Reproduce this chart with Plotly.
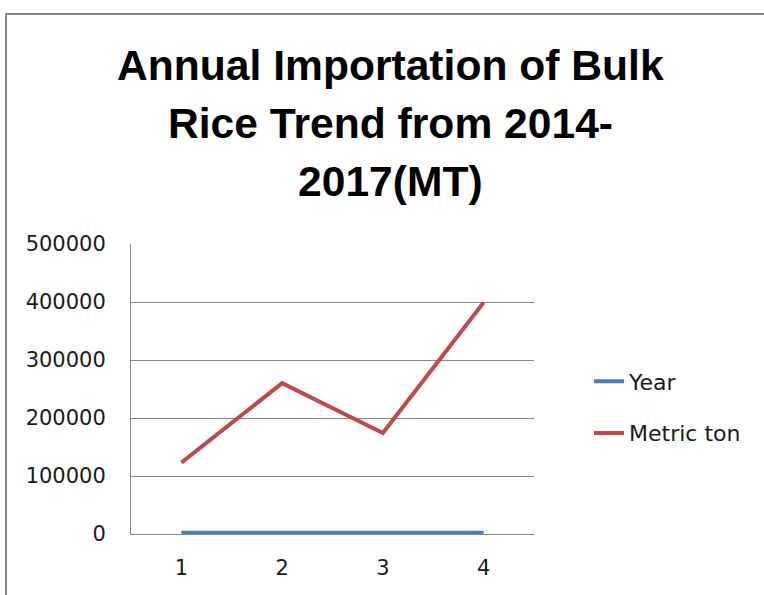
import plotly.graph_objects as go

# Data
categories = [1, 2, 3, 4]
year_values = [2014, 2015, 2016, 2017]
metric_ton_values = [123000, 260000, 174000, 399000]
title_lines = ["Annual Importation of Bulk", "Rice Trend from 2014-", "2017(MT)"]
series_names = ["Year", "Metric ton"]
y_tick_values = [0, 100000, 200000, 300000, 400000, 500000]

W, H = 764, 595
PX_L, PX_R, PX_T, PX_B = 131, 534, 244, 534

def py_(py):
    return (PX_B - py) / (PX_B - PX_T)

def px_(px):
    return (px - PX_L) / (PX_R - PX_L)

fig = go.Figure()
fig.add_trace(go.Scatter(x=categories, y=year_values, mode="lines", name=series_names[0],
                         legendgroup="a", line=dict(color="#4A7EBB", width=4)))
fig.add_trace(go.Scatter(x=categories, y=metric_ton_values, mode="lines", name=series_names[1],
                         legendgroup="b", line=dict(color="#BE4B48", width=4)))

title_centers_px = [65, 123, 181]
for text, cy in zip(title_lines, title_centers_px):
    fig.add_annotation(text=text, xref="paper", yref="paper",
                       x=px_(390), y=py_(cy),
                       xanchor="center", yanchor="middle", showarrow=False,
                       font=dict(family="Liberation Sans", size=42.6, color="#000000", weight="bold"))

# chart area border (only top and left edges visible)
fig.add_shape(type="rect", xref="paper", yref="paper",
              x0=px_(6), x1=px_(800), y0=py_(640), y1=py_(14),
              line=dict(color="#868686", width=2), fillcolor="rgba(0,0,0,0)", layer="below")

fig.update_layout(
    width=W, height=H,
    margin=dict(l=PX_L, r=W - PX_R, t=PX_T, b=H - PX_B, pad=0),
    paper_bgcolor="white", plot_bgcolor="white",
    showlegend=True,
    legend=dict(x=px_(589), y=py_(407.5), xanchor="left", yanchor="middle",
                font=dict(family="DejaVu Sans", size=22, color="#1a1a1a"),
                tracegroupgap=20, traceorder="grouped", bgcolor="rgba(0,0,0,0)"),
    font=dict(family="DejaVu Sans", size=21, color="#1a1a1a"),
)
fig.update_xaxes(range=[0.5, 4.5], tickvals=categories, ticks="", showgrid=False,
                 showline=True, linecolor="#868686", linewidth=1, zeroline=False,
                 tickfont=dict(family="DejaVu Sans", size=21, color="#1a1a1a"),
                 ticklabelstandoff=15, layer="below traces", fixedrange=True)
fig.update_yaxes(range=[0, 500000], tickvals=y_tick_values, tickformat="d", ticks="",
                 showgrid=True, gridcolor="#868686", gridwidth=1,
                 showline=True, linecolor="#868686", linewidth=1, zeroline=False,
                 tickfont=dict(family="DejaVu Sans", size=21, color="#1a1a1a"),
                 ticklabelstandoff=20, layer="below traces", fixedrange=True)

fig.write_html("out.html", config={"displayModeBar": False},
               post_script="document.body.style.margin='0';document.body.style.overflow='hidden';")
